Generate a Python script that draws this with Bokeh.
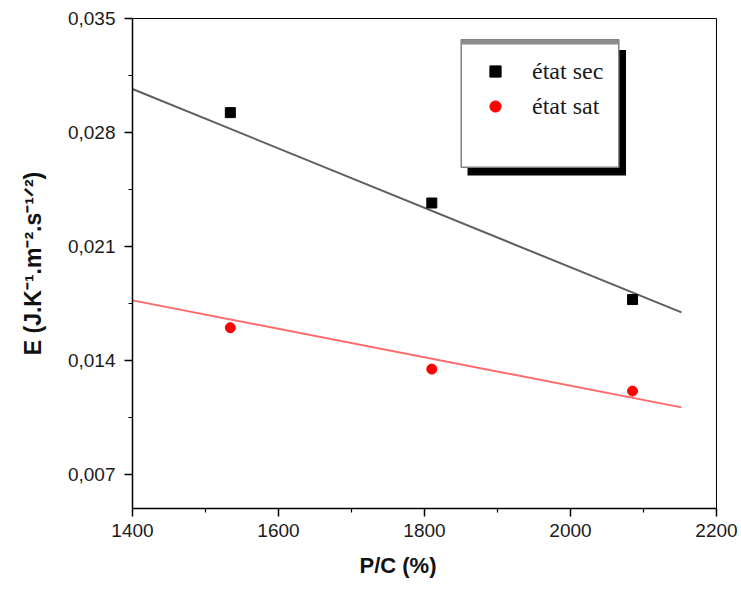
from bokeh.plotting import figure
from bokeh.models import (Range1d, FixedTicker, CustomJSTickFormatter, Legend,
                          LegendItem, BoxAnnotation, Title)
from bokeh.embed import file_html
from bokeh.resources import INLINE

# ---- data ----
pc = [1534, 1810, 2085]                 # P/C (%)
e_sec = [0.02922, 0.02367, 0.01774]     # état sec
e_sat = [0.01601, 0.01347, 0.01212]     # état sat
fit_x = [1400, 2152]                    # extent of the fitted lines
fit_sec = [0.03067, 0.01695]
fit_sat = [0.01769, 0.01112]
x_ticks = [1400, 1600, 1800, 2000, 2200]
x_minor = [1500, 1700, 1900, 2100]
y_ticks = [0.007, 0.014, 0.021, 0.028, 0.035]
y_minor = [0.0105, 0.0175, 0.0245, 0.0315]
labels = ["état sec", "état sat"]
x_title = "P/C (%)"
y_title = "E (J.K\u207b\u00b9.m\u207b\u00b2.s\u207b\u00b9\u141f\u00b2)"

p = figure(width=741, height=589, output_backend="svg", toolbar_location=None,
           x_range=Range1d(1400, 2200), y_range=Range1d(0.00491, 0.035),
           min_border_left=132, min_border_right=25, min_border_top=18,
           min_border_bottom=81, background_fill_color="white",
           border_fill_color="white")
p.xgrid.visible = False
p.ygrid.visible = False
p.outline_line_color = "black"
p.outline_line_width = 1

p.xaxis.ticker = FixedTicker(ticks=x_ticks, minor_ticks=x_minor)
p.yaxis.ticker = FixedTicker(ticks=y_ticks, minor_ticks=y_minor)
p.yaxis.formatter = CustomJSTickFormatter(code="return tick.toFixed(3).replace('.', ',');")

for ax in (p.xaxis[0], p.yaxis[0]):
    ax.axis_line_color = "black"
    ax.axis_line_width = 1.5
    ax.major_tick_line_color = "black"
    ax.major_tick_line_width = 1.5
    ax.minor_tick_line_color = "black"
    ax.minor_tick_line_width = 1.2
    ax.major_tick_in = 0
    ax.major_tick_out = 8
    ax.minor_tick_in = 0
    ax.minor_tick_out = 4
    ax.major_label_text_font = "Liberation Sans"
    ax.major_label_text_font_size = "19px"
    ax.major_label_text_color = "#1a1a1a"
p.xaxis.major_label_standoff = 7
p.yaxis.major_label_standoff = 9

p.yaxis.axis_label = y_title
p.yaxis.axis_label_text_font = "Liberation Sans"
p.yaxis.axis_label_text_font_style = "bold"
p.yaxis.axis_label_text_font_size = "23px"
p.yaxis.axis_label_text_color = "#111111"
p.yaxis.axis_label_standoff = 19

# fitted lines
p.line(fit_x, fit_sec, line_color="#5f5f5f", line_width=2)
p.line(fit_x, fit_sat, line_color="#ff6a6a", line_width=2)

# data points
r_sec = p.scatter(pc, e_sec, marker="square", size=10, fill_color="black",
                  line_color="black")
r_sat = p.scatter(pc, e_sat, marker="circle", size=10, fill_color="#ff0000",
                  line_color="#ff0000")

# legend frame with shadow (screen units, relative to the plot frame)
def sbox(left, right, top, bottom, **kw):
    return BoxAnnotation(left=left, right=right, top=top, bottom=bottom,
                         left_units="screen", right_units="screen",
                         top_units="screen", bottom_units="screen", **kw)

p.add_layout(sbox(335, 493.5, 458.5, 333, fill_color="black", fill_alpha=1,
                  line_alpha=0))
p.add_layout(sbox(328.7, 486.3, 468.7, 341.3, fill_color="white",
                  fill_alpha=1, line_color="#808080", line_width=1.5,
                  line_alpha=1))
p.add_layout(sbox(328.7, 486.3, 468.7, 464, fill_color="#8c8c8c",
                  fill_alpha=1, line_alpha=0))

legend = Legend(items=[LegendItem(label=labels[0], renderers=[r_sec]),
                       LegendItem(label=labels[1], renderers=[r_sat])],
                location=(339, 378), padding=10, spacing=7, margin=0,
                glyph_width=28, glyph_height=28, label_height=28,
                label_standoff=23, border_line_alpha=0,
                background_fill_alpha=0,
                label_text_font="Liberation Serif",
                label_text_font_size="24px", label_text_color="#1a1a1a")
p.add_layout(legend, "center")

# x axis title (placed slightly left of centre, as in the reference)
p.add_layout(Title(text=x_title, align="left", offset=227, standoff=22,
                   text_font="Liberation Sans", text_font_style="bold",
                   text_font_size="22px", text_color="#111111"), "below")

open("out.html", "w").write(file_html(p, INLINE))
